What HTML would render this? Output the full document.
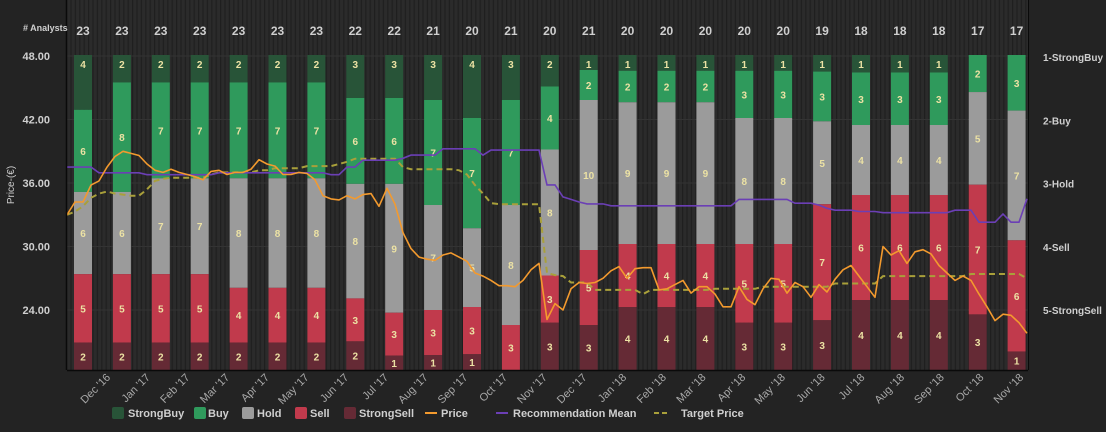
<!DOCTYPE html>
<html><head><meta charset="utf-8"><style>
html,body{margin:0;padding:0;background:#232323;}
svg{display:block;font-family:"Liberation Sans",sans-serif;}
</style></head><body>
<svg id="chart" width="1106" height="432" viewBox="0 0 1106 432">
<defs>
<pattern id="stripes" width="4.4" height="10" patternUnits="userSpaceOnUse">
<rect width="4.4" height="10" fill="#2b2b2b"/><rect width="1.2" height="10" fill="#1f1f1f"/>
</pattern>
</defs>
<rect x="0" y="0" width="1106" height="432" fill="#232323"/>
<rect x="67" y="0" width="961" height="370" fill="url(#stripes)"/>
<g id="grid"></g><g id="bars"></g><g id="lines"></g><g id="axes"></g>
<g id="legend" font-size="11" font-weight="bold" fill="#cfcfcf">
 <g><rect x="112" y="407" width="12" height="12" rx="2" fill="#285438"/><text x="128" y="417">StrongBuy</text></g>
 <g><rect x="194" y="407" width="12" height="12" rx="2" fill="#2f9a5c"/><text x="208" y="417">Buy</text></g>
 <g><rect x="242" y="407" width="12" height="12" rx="2" fill="#9b9b9b"/><text x="257" y="417">Hold</text></g>
 <g><rect x="295" y="407" width="12" height="12" rx="2" fill="#c13a4c"/><text x="310" y="417">Sell</text></g>
 <g><rect x="344" y="407" width="12" height="12" rx="2" fill="#652a35"/><text x="359" y="417">StrongSell</text></g>
 <g><line x1="425" y1="413" x2="437" y2="413" stroke="#f39a2e" stroke-width="2"/><text x="441" y="417">Price</text></g>
 <g><line x1="496" y1="413" x2="508" y2="413" stroke="#6b3fb5" stroke-width="2"/><text x="513" y="417">Recommendation Mean</text></g>
 <g><line x1="654" y1="413" x2="668" y2="413" stroke="#a9a03a" stroke-width="2" stroke-dasharray="5,3"/><text x="681" y="417">Target Price</text></g>
</g>
</svg>
<script>
const analysts=[23,23,23,23,23,23,23,22,22,21,20,21,20,21,20,20,20,20,20,19,18,18,18,17,17];
const strongBuy=[4,2,2,2,2,2,2,3,3,3,4,3,2,1,1,1,1,1,1,1,1,1,1,0,0];
const buy=[6,8,7,7,7,7,7,6,6,7,7,7,4,2,2,2,2,3,3,3,3,3,3,2,3];
const hold=[6,6,7,7,8,8,8,8,9,7,5,8,8,10,9,9,9,8,8,5,4,4,4,5,7];
const sell=[5,5,5,5,4,4,4,3,3,3,3,3,3,5,4,4,4,5,5,7,6,6,6,7,6];
const strongSell=[2,2,2,2,2,2,2,2,1,1,1,0,3,3,4,4,4,3,3,3,4,4,4,3,1];
const months=["Dec '16","Jan '17","Feb '17","Mar '17","Apr '17","May '17","Jun '17","Jul '17","Aug '17","Sep '17","Oct '17","Nov '17","Dec '17","Jan '18","Feb '18","Mar '18","Apr '18","May '18","Jun '18","Jul '18","Aug '18","Sep '18","Oct '18","Nov '18"];
const priceTicks=[48,42,36,30,24];
const recTicks=["1-StrongBuy","2-Buy","3-Hold","4-Sell","5-StrongSell"];
const price=[33.0,34.2,34.2,35.8,36.2,37.5,38.5,39.0,38.8,38.6,37.8,37.2,37.0,37.3,37.0,36.8,36.6,36.3,37.1,37.2,36.8,37.0,37.0,37.3,38.2,37.8,37.6,36.8,36.8,37.0,36.9,36.3,34.8,34.5,34.4,34.8,34.5,34.9,35.0,33.8,35.5,34.0,31.3,29.8,29.0,28.8,28.7,29.2,29.4,29.0,28.6,27.5,27.2,26.8,26.3,26.3,26.2,26.8,27.8,28.4,23.1,24.6,24.0,26.0,26.6,26.5,26.6,27.0,27.7,28.1,27.0,27.9,28.0,28.0,25.9,26.0,26.4,26.8,25.6,26.2,26.2,25.5,24.3,24.3,26.2,25.0,24.5,26.0,27.0,26.9,25.6,26.6,26.2,25.2,26.4,25.7,26.9,27.8,28.2,27.2,26.2,25.2,30.0,29.2,29.6,28.4,29.5,29.7,29.3,28.2,27.5,26.8,27.2,26.8,25.5,24.3,23.0,23.6,23.5,22.8,21.8];
const target=[33.0,33.3,33.8,34.6,35.0,35.2,35.0,34.9,34.8,34.8,35.4,36.2,36.4,36.5,36.5,36.5,36.5,36.5,36.8,37.0,37.0,37.0,37.0,37.0,37.2,37.2,37.4,37.4,37.4,37.4,37.6,37.6,37.6,37.6,37.8,38.0,38.3,38.3,38.3,38.3,38.3,38.3,37.5,37.3,37.3,37.3,37.3,37.3,37.3,37.2,36.8,35.8,35.0,34.1,34.0,34.0,34.0,34.0,34.0,34.0,27.5,27.3,27.2,26.6,26.6,26.6,25.9,25.9,25.9,25.9,25.9,25.9,25.5,25.9,25.9,25.9,25.9,25.9,25.9,25.9,25.9,26.0,26.0,26.0,26.0,26.0,26.0,26.2,26.2,26.2,26.2,26.2,26.2,26.2,26.2,26.2,26.5,26.5,26.5,26.5,26.5,26.5,27.2,27.2,27.2,27.2,27.2,27.2,27.2,27.2,27.2,27.2,27.2,27.4,27.4,27.4,27.4,27.4,27.4,27.4,27.0];
const recMean=[2.74,2.74,2.74,2.74,2.83,2.83,2.83,2.83,2.83,2.83,2.86,2.86,2.86,2.86,2.86,2.86,2.86,2.86,2.86,2.83,2.83,2.83,2.83,2.83,2.83,2.83,2.83,2.83,2.83,2.83,2.83,2.83,2.83,2.86,2.86,2.74,2.74,2.63,2.63,2.63,2.63,2.63,2.60,2.55,2.55,2.55,2.55,2.45,2.45,2.45,2.45,2.45,2.55,2.47,2.47,2.47,2.47,2.47,2.47,2.47,3.02,3.02,3.21,3.25,3.29,3.32,3.32,3.32,3.35,3.35,3.35,3.35,3.35,3.35,3.35,3.35,3.35,3.35,3.35,3.35,3.35,3.35,3.35,3.35,3.25,3.25,3.25,3.25,3.25,3.25,3.25,3.31,3.31,3.31,3.34,3.39,3.42,3.42,3.42,3.44,3.44,3.44,3.46,3.46,3.46,3.46,3.46,3.46,3.46,3.46,3.46,3.42,3.42,3.42,3.61,3.61,3.61,3.48,3.61,3.61,3.24];

const NS="http://www.w3.org/2000/svg";
const L=67,R=1028,T=55,B=370;
const yPrice=p=>56+(48-p)*63.5/6;
const yRec=r=>57+(r-1)*63.3;
const xBar=i=>83+i*38.9;
const xSample=(k,n)=>L+k*(1027-L)/(n-1);
const xMonth=i=>111+i*39.7;
function mk(tag,attrs,parent){const e=document.createElementNS(NS,tag);for(const k in attrs)e.setAttribute(k,attrs[k]);parent.appendChild(e);return e;}
const grid=document.getElementById('grid'),bars=document.getElementById('bars'),lines=document.getElementById('lines'),axes=document.getElementById('axes');

priceTicks.forEach(p=>{
 const g=mk('line',{x1:L,x2:R,y1:yPrice(p),y2:yPrice(p),stroke:'#333',"stroke-width":1},grid);
 
 
 const t=mk('text',{x:50,y:yPrice(p)+4,"text-anchor":"end","font-size":11,"font-weight":"bold",fill:'#cfcfcf'},axes);
 t.textContent=p.toFixed(2);
 
 
});
recTicks.forEach((lab,i)=>{
 const t=mk('text',{x:1043,y:yRec(i+1)+4,"font-size":10,"font-weight":"bold",fill:'#cfcfcf'},axes);
 t.textContent=lab;
 
 
});
const cols=['#285438','#2f9a5c','#9b9b9b','#c13a4c','#652a35'];
const segs=[strongBuy,buy,hold,sell,strongSell];
const segNames=['strongbuy','buy','hold','sell','strongsell'];
analysts.forEach((n,i)=>{
 const tot=segs.reduce((s,a)=>s+a[i],0);
 let y=T;const cx=xBar(i);
 segs.forEach((a,j)=>{
  const v=a[i];if(!v)return;
  const h=v/tot*(B-T);
  const r=mk('rect',{x:cx-9,y:y,width:18,height:h,fill:cols[j]},bars);
  
  
  const t=mk('text',{x:cx,y:y+(j===0?13:h/2+4),"text-anchor":"middle","font-size":10,"font-weight":"bold",fill:'#ece2a4'},bars);
  t.textContent=v;
  
  
  y+=h;
 });
 const c=mk('text',{x:cx,y:35,"text-anchor":"middle","font-size":12,"font-weight":"bold",fill:'#cfcfcf'},axes);
 c.textContent=n;
 
 
});
function path(arr,yf){return arr.map((v,k)=>(k?'L':'M')+xSample(k,arr.length).toFixed(1)+','+yf(v).toFixed(1)).join(' ');}
const tp=mk('path',{d:path(target,yPrice),fill:'none',stroke:'#a9a03a',"stroke-width":2,"stroke-dasharray":"6,4"},lines);


const rm=mk('path',{d:path(recMean,yRec),fill:'none',stroke:'#6b3fb5',"stroke-width":1.6},lines);


const pr=mk('path',{d:path(price,yPrice),fill:'none',stroke:'#f39a2e',"stroke-width":1.6,"stroke-linejoin":"round"},lines);


const xa=mk('line',{x1:L,x2:R,y1:B+0.5,y2:B+0.5,stroke:'#0a0a0a',"stroke-width":1.5},axes);


const ya=mk('line',{x1:L-0.5,x2:L-0.5,y1:0,y2:B,stroke:'#0a0a0a',"stroke-width":1.5},axes);


const ya2=mk('line',{x1:R+0.5,x2:R+0.5,y1:0,y2:B,stroke:'#0a0a0a',"stroke-width":1},axes);


months.forEach((m,i)=>{
 const x=xMonth(i);
 const t=mk('text',{x:x,y:378,"text-anchor":"end","font-size":11,fill:'#a8a8a8',transform:`rotate(-45 ${x} 378)`},axes);
 t.textContent=m;
 
 
});
const an=mk('text',{x:23,y:31,"font-size":9,"font-weight":"bold",fill:'#cfcfcf'},axes);
an.textContent='# Analysts';


const yt=mk('text',{x:14,y:185,"text-anchor":"middle","font-size":10,fill:'#cfcfcf',transform:'rotate(-90 14 185)'},axes);
yt.textContent='Price-(€)';


</script>
</body></html>
